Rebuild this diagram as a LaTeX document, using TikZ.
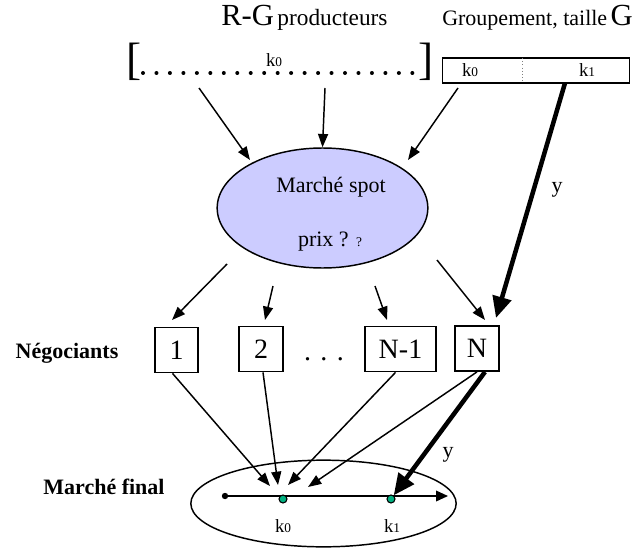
\documentclass[tikz,border=0pt]{standalone}
\usepackage{fontspec}
\setmainfont{Liberation Serif}
\usetikzlibrary{shapes.geometric,arrows.meta,calc}
\definecolor{spotfill}{RGB}{204,204,255}
\definecolor{dotgreen}{RGB}{0,176,128}
\newcommand\ksub[1]{k{\fontsize{10}{10}\selectfont #1}}
\begin{document}
\begin{tikzpicture}[x=0.75pt,y=-0.75pt,
 arr/.style={-{Triangle[length=10pt,width=7.5pt]}, line width=1.1pt},
 bigarr/.style={-{Triangle[length=16pt,width=14pt]}, line width=3.4pt},
 box/.style={draw, line width=1.1pt, minimum height=34pt, inner sep=0pt, font=\fontsize{21}{21}\selectfont},
 lbl/.style={font=\fontsize{16.5}{18}\selectfont},
 blbl/.style={font=\fontsize{16.5}{18}\selectfont\bfseries},
 klbl/.style={font=\fontsize{14}{16}\selectfont, inner sep=0pt},
]
\useasboundingbox (0,0) rectangle (638,549);

% titles
\node[anchor=base west, inner sep=0pt] (t1) at (221,26)
  {{\fontsize{23}{23}\selectfont R-G} {\fontsize{17.5}{18}\selectfont producteurs}};
\node[anchor=base west, inner sep=0pt] (t2) at (442,26)
  {{\fontsize{16.5}{18}\selectfont Groupement, taille} {\fontsize{23}{23}\selectfont G}};

% producers range
\node[anchor=base, inner sep=0pt, font=\fontsize{34}{34}\selectfont] (lb) at (134,75) {[};
\node[anchor=base, inner sep=0pt, font=\fontsize{34}{34}\selectfont] (rb) at (426,75) {]};
\draw[line width=3pt, line cap=round, dash pattern=on 0pt off 10.1pt] (143,73) -- (415,73);
\node[klbl, anchor=base] (kt) at (274,67) {\ksub{0}};

% grouping box
\node[draw, line width=1.1pt, minimum width=140pt, minimum height=18.75pt, inner sep=0pt] (grp) at (536,70.5) {};
\draw[gray, line width=0.4pt, dotted] (522,58) -- (522,83);
\node[klbl, anchor=base] (gk0) at (470,77) {\ksub{0}};
\node[klbl, anchor=base] (gk1) at (587,77) {\ksub{1}};

% spot market
\node[ellipse, draw, line width=1.1pt, fill=spotfill, minimum width=158pt, minimum height=90pt, inner sep=0pt] (spot) at (322.5,208) {};
\node[lbl] (ms) at (331,187) {Marché spot};
\node[lbl] (px) at (330,242) {prix ? {\fontsize{10}{10}\selectfont ?}};

\coordinate (p1) at (199,88);
\coordinate (p2) at (325,88);
\coordinate (p3) at (458,88);
\draw[arr] (p1) -- (250,160);
\draw[arr] (p2) -- (spot.north);
\draw[arr] (p3) -- (408,160);

% traders
\node[box, minimum width=32pt] (b1) at (176.5,350) {1};
\node[box, minimum width=33pt] (b2) at (261,349) {2};
\node[box, minimum width=53pt] (bN1) at (400.5,349) {N-1};
\node[box, minimum width=33pt] (bN) at (477,348.5) {N};
\node[font=\fontsize{21}{21}\selectfont, inner sep=0pt, anchor=base] (dd) at (324,360) {. . .};
\node[blbl] (neg) at (67,353) {Négociants};

\coordinate (s1) at (227,264);
\coordinate (s2) at (273,286);
\coordinate (s3) at (375,286);
\coordinate (s4) at (437,260);
\draw[arr] (s1) -- (172,320);
\draw[arr] (s2) -- (265,320);
\draw[arr] (s3) -- (387,320);
\draw[arr] (s4) -- (485,320);

% thick from grouping to N
\draw[bigarr] (565,83) -- (496,318);
\node[lbl] (y1) at (557,190) {y};

% final market
\node[ellipse, draw, line width=1.1pt, minimum width=199pt, minimum height=65pt, inner sep=0pt] (fin) at (323.5,503.5) {};
\node[blbl] (mf) at (104,487) {Marché final};
\fill (225,496) circle (3.2);
\draw[-{Triangle[length=9pt,width=8pt]}, line width=1.1pt] (225,496) -- (448,496);
\node[circle, draw, line width=0.8pt, fill=dotgreen, minimum size=6pt, inner sep=0pt] (d0) at (283,499) {};
\node[circle, draw, line width=0.8pt, fill=dotgreen, minimum size=6pt, inner sep=0pt] (d1) at (391,499) {};
\node[klbl, anchor=base] (fk0) at (283,532) {\ksub{0}};
\node[klbl, anchor=base] (fk1) at (392,532) {\ksub{1}};

\draw[arr] ($(b1.south)+(-4,0)$) -- (270,486);
\draw[arr] ($(b2.south)+(2,0)$) -- (278,485);
\draw[arr] ($(bN1.south)+(-5,0)$) -- (288,485);
\draw[arr] ($(bN.south)+(0,0)$) -- (308,487);
\draw[bigarr] ($(bN.south)+(8,0)$) -- (d1);
\node[lbl] (y2) at (448,455) {y};
\end{tikzpicture}
\end{document}
